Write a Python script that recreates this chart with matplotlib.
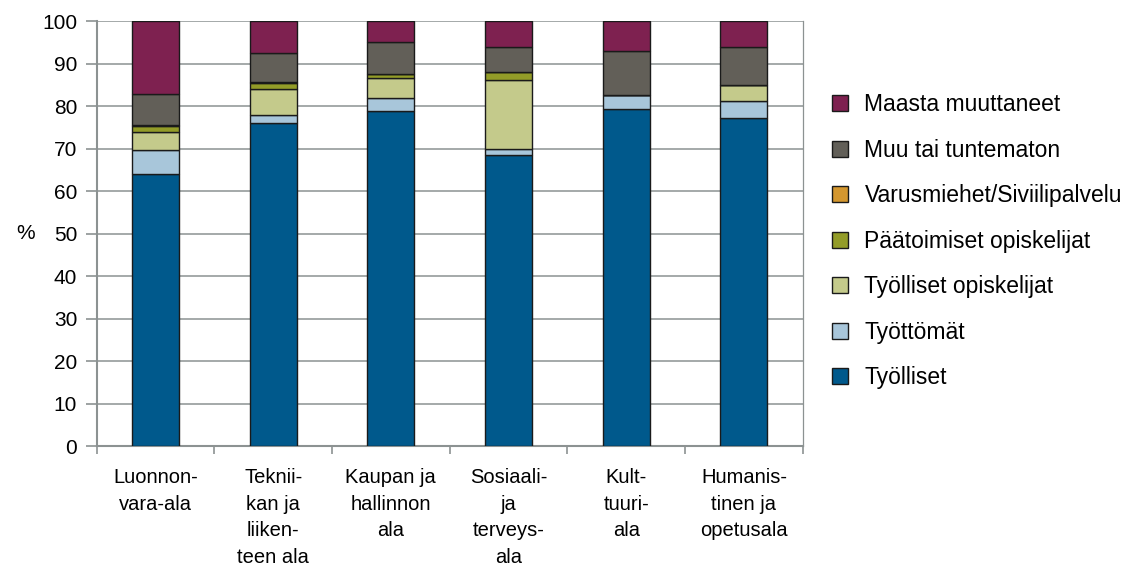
import numpy as np
import matplotlib
matplotlib.use('Agg')
import matplotlib.pyplot as plt

plt.rcParams['font.family'] = ['Liberation Sans', 'DejaVu Sans']

categories = ['Luonnon-\nvara-ala', 'Teknii-\nkan ja\nliiken-\nteen ala', 'Kaupan ja\nhallinnon\nala',
              'Sosiaali-\nja\nterveys-\nala', 'Kult-\ntuuri-\nala', 'Humanis-\ntinen ja\nopetusala']

tyolliset = [63.9, 76.0, 78.9, 68.5, 79.2, 77.2]
tyottomat = [5.7, 2.0, 3.0, 1.5, 3.4, 4.1]
tyoll_opisk = [4.2, 6.0, 4.7, 16.1, 0.0, 3.7]
paatoim_opisk = [1.6, 1.5, 1.0, 1.8, 0.0, 0.0]
varusmiehet = [0.2, 0.1, 0.0, 0.0, 0.0, 0.0]
muu = [7.2, 6.9, 7.5, 5.9, 10.4, 8.8]
maasta = [17.2, 7.5, 4.9, 6.2, 7.0, 6.2]

series = [
    ('Työlliset', tyolliset, '#00598c'),
    ('Työttömät', tyottomat, '#a8c6da'),
    ('Työlliset opiskelijat', tyoll_opisk, '#c4ca8b'),
    ('Päätoimiset opiskelijat', paatoim_opisk, '#939c28'),
    ('Varusmiehet/Siviilipalvelu', varusmiehet, '#d4972f'),
    ('Muu tai tuntematon', muu, '#625f58'),
    ('Maasta muuttaneet', maasta, '#7e2150'),
]

grid_col = '#8c9292'

fig = plt.figure(figsize=(11.37, 5.69), dpi=100)
ax = fig.add_axes([0.085, 0.216, 0.621, 0.747])

x = np.arange(len(categories))
bottom = np.zeros(len(categories))
handles = []
for name, vals, col in series:
    h = ax.bar(x, vals, 0.4, bottom=bottom, color=col, edgecolor='#1a1a1a', linewidth=1.0,
               label=name, zorder=3)
    handles.append(h)
    bottom += np.array(vals)

ax.set_xlim(-0.5, len(categories) - 0.5)
ax.set_ylim(0, 100)
ax.set_yticks(range(0, 101, 10))
ax.yaxis.grid(True, color=grid_col, linewidth=1.1, zorder=0)
ax.set_xticks(x)
ax.set_xticklabels(categories, fontsize=14.5, linespacing=1.5)
ax.set_xticks(np.arange(-0.5, len(categories), 1), minor=True)
ax.tick_params(axis='x', which='major', length=0, pad=16)
ax.tick_params(axis='x', which='minor', length=6, color=grid_col, width=1.2)
ax.tick_params(axis='y', labelsize=15, length=8, color=grid_col, width=1.2, pad=6)
ax.spines['top'].set_visible(False)
ax.spines['right'].set_color(grid_col)
ax.spines['right'].set_linewidth(0.9)
for s in ['left', 'bottom']:
    ax.spines[s].set_color(grid_col)
    ax.spines[s].set_linewidth(1.5)
ax.set_ylabel('%', rotation=0, fontsize=15, labelpad=12, va='center')

ax.legend(handles[::-1], [s[0] for s in series][::-1], loc='center left',
          bbox_to_anchor=(1.042, 0.482), frameon=False, fontsize=16.5,
          borderaxespad=0, borderpad=0,
          handlelength=0.7, handleheight=0.7, labelspacing=0.98, handletextpad=0.7)

fig.savefig('out.png', dpi=100)
